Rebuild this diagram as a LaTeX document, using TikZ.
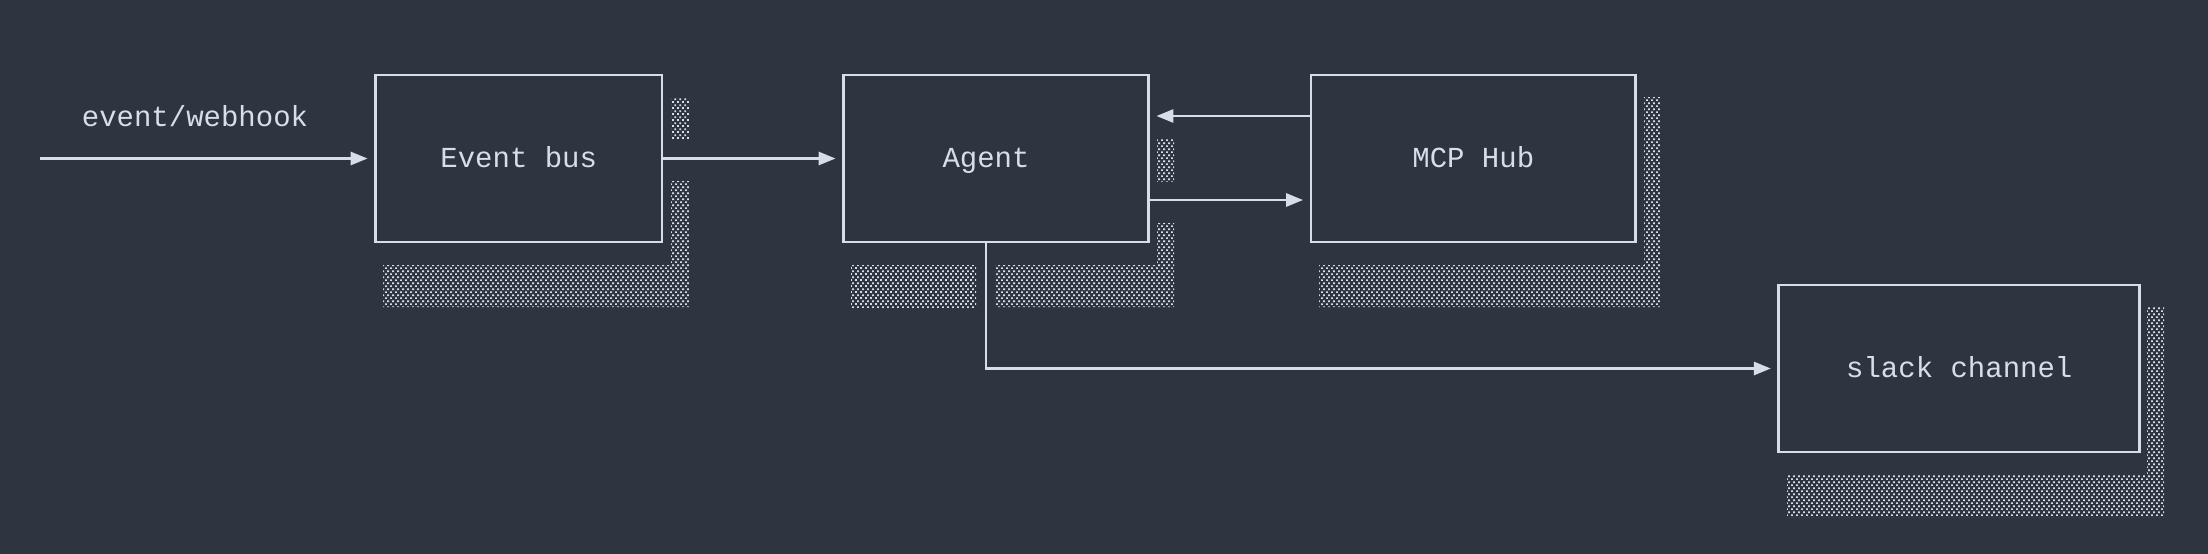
\documentclass[tikz,border=0pt]{standalone}
\usepackage{fontspec}
\setmonofont{Liberation Mono}
\usetikzlibrary{arrows.meta,patterns}
\definecolor{bgc}{HTML}{2E3440}
\definecolor{fgc}{HTML}{D8DEE9}
\pgfdeclarepatternformonly{shadedots}{\pgfqpoint{0pt}{0pt}}{\pgfqpoint{4.7pt}{6.4pt}}{\pgfqpoint{4.7pt}{6.4pt}}{%
  \pgfpathrectangle{\pgfqpoint{0pt}{0pt}}{\pgfqpoint{1.9pt}{1.9pt}}%
  \pgfpathrectangle{\pgfqpoint{2.35pt}{3.2pt}}{\pgfqpoint{1.9pt}{1.9pt}}%
  \pgfusepath{fill}}
\begin{document}
\begin{tikzpicture}[x=1pt,y=-1pt,
  txt/.style={text=fgc, font=\ttfamily\fontsize{29}{34}\selectfont, text height=22pt, text depth=5pt, inner sep=0pt},
  box/.style={txt, draw=fgc, line width=2.8pt, rectangle, minimum height=167pt},
  conn/.style={draw=fgc, line width=2.8pt, -{Triangle[length=17pt,width=13pt]}, shorten >=6.5pt},
  shade/.style={pattern=shadedots, pattern color=fgc}]
\fill[bgc] (0,0) rectangle (2208,554);
\useasboundingbox (0,0) rectangle (2208,554);
% shadows
\fill[shade] (671,97) rectangle (689,139);
\fill[shade] (671,181) -- (689,181) -- (689,307) -- (383,307) -- (383,265) -- (671,265) -- cycle;
\fill[shade] (1157,139) rectangle (1174,181);
\fill[shade] (851,265) rectangle (976,307);
\fill[shade] (1157,223) -- (1174,223) -- (1174,307) -- (995,307) -- (995,265) -- (1157,265) -- cycle;
\fill[shade] (1644,97) -- (1660,97) -- (1660,307) -- (1319,307) -- (1319,265) -- (1644,265) -- cycle;
\fill[shade] (2147,307) -- (2164,307) -- (2164,517) -- (1787,517) -- (1787,475) -- (2147,475) -- cycle;
% nodes
\node[box, minimum width=286.5pt] (bus) at (518.75,158.5) {Event bus};
\node[box, minimum width=305pt] (agent) at (996,158.5) {\hspace*{-20pt}Agent};
\node[box, minimum width=324.5pt] (mcp) at (1473.25,158.5) {MCP Hub};
\node[box, minimum width=361pt] (slack) at (1959.25,368.5) {slack channel};
\node[txt] (hook) at (195,117.5) {event/webhook};
\coordinate (src) at (40,158.5);
% connectors
\draw[conn] (src) -- (bus.west);
\draw[conn] (bus.east) -- (agent.west);
\draw[conn] ([yshift=42.5pt]mcp.west) -- ([yshift=42.5pt]agent.east);
\draw[conn] ([yshift=-41.5pt]agent.east) -- ([yshift=-41.5pt]mcp.west);
\draw[conn] ([xshift=-10pt]agent.south) |- (slack.west);
\end{tikzpicture}
\end{document}
